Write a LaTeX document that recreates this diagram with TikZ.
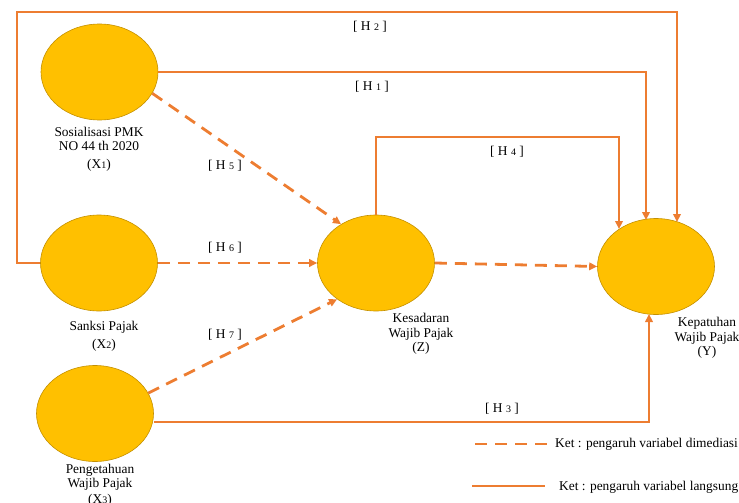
\documentclass[tikz,border=0pt]{standalone}
\usepackage{fontspec}
\setmainfont{Liberation Serif}
\usetikzlibrary{arrows.meta,shapes.geometric}
\definecolor{gold}{HTML}{FFC000}
\definecolor{goldedge}{HTML}{C49000}
\definecolor{org}{HTML}{ED7D31}
\newcommand{\smd}[1]{{\fontsize{10}{10}\selectfont #1}}
\begin{document}
\begin{tikzpicture}[x=1pt,y=-1pt,
 var/.style={ellipse,fill=gold,draw=goldedge,line width=0.6pt,minimum width=117pt,minimum height=96pt,inner sep=0pt},
 lbl/.style={font=\fontsize{13.4}{14.5}\selectfont,align=center,inner sep=0pt,anchor=base},
 direct/.style={draw=org,line width=2.8pt},
 medi/.style={draw=org,line width=2.8pt,dash pattern=on 12pt off 8pt},
 tip/.style={-{Triangle[length=8pt,width=7.5pt]}}]
\useasboundingbox (0,0) rectangle (739,503);

% variables
\node[var] (X1) at (99.5,72) {};
\node[var] (X2) at (99,263) {};
\node[var] (X3) at (95,413.5) {};
\node[var] (Z) at (376,263) {};
\node[var] (Y) at (656,266.5) {};

% helper coordinates
\coordinate (y1) at (646,220);
\coordinate (y2) at (677,222);
\coordinate (y4) at (619,229);
\coordinate (y3) at (649,314);
\coordinate (h2c) at (17,12);
\coordinate (h4c) at (376,137);

% direct effects
\draw[direct,tip] (X2.west) -| (h2c) -| (y2);
\draw[direct,tip] (X1.east) -| (y1);
\draw[direct,tip] (Z.north) |- (h4c) -| (y4);
\draw[direct,tip] ([yshift=-8.5pt]X3.east) -| (y3);

% mediated effects
\draw[medi,tip] (X1.-22) -- (Z.132);
\draw[medi,tip] (X2.east) -- (Z.west);
\draw[medi,tip] (X3.21) -- (Z.223);
\draw[medi,tip] (Z.east) -- (Y.west);

% variable labels (base = last line baseline)
\node[lbl] (lx1) at (99,168.5) {Sosialisasi PMK\\NO 44 th 2020\\[3.5pt](X\smd{1})};
\node[lbl] (lx2) at (104,348.5) {Sanksi Pajak\\[4pt](X\smd{2})};
\node[lbl] (lx3) at (100,503.5) {Pengetahuan\\Wajib Pajak\\[1.5pt](X\smd{3})};
\node[lbl] (lz) at (421,351.5) {Kesadaran\\Wajib Pajak\\(Z)};
\node[lbl] (ly) at (707,355.5) {Kepatuhan\\Wajib Pajak\\(Y)};

% hypothesis labels
\node[lbl] (h2) at (370,30.5) {[ H \smd{2} ]};
\node[lbl] (h1) at (372,90.5) {[ H \smd{1} ]};
\node[lbl] (h4) at (507,155.5) {[ H \smd{4} ]};
\node[lbl] (h5) at (225,169.5) {[ H \smd{5} ]};
\node[lbl] (h6) at (225,251.5) {[ H \smd{6} ]};
\node[lbl] (h7) at (225,338.5) {[ H \smd{7} ]};
\node[lbl] (h3) at (502,412.5) {[ H \smd{3} ]};

% legend
\coordinate (l1a) at (475,444);
\coordinate (l1b) at (547,444);
\coordinate (l2a) at (472,486);
\coordinate (l2b) at (545,486);
\draw[medi] (l1a) -- (l1b);
\draw[direct] (l2a) -- (l2b);
\node[lbl,anchor=base west] (k1) at (555,447.5) {Ket : pengaruh variabel dimediasi};
\node[lbl,anchor=base west] (k2) at (559,490.5) {Ket : pengaruh variabel langsung};
\end{tikzpicture}
\end{document}
